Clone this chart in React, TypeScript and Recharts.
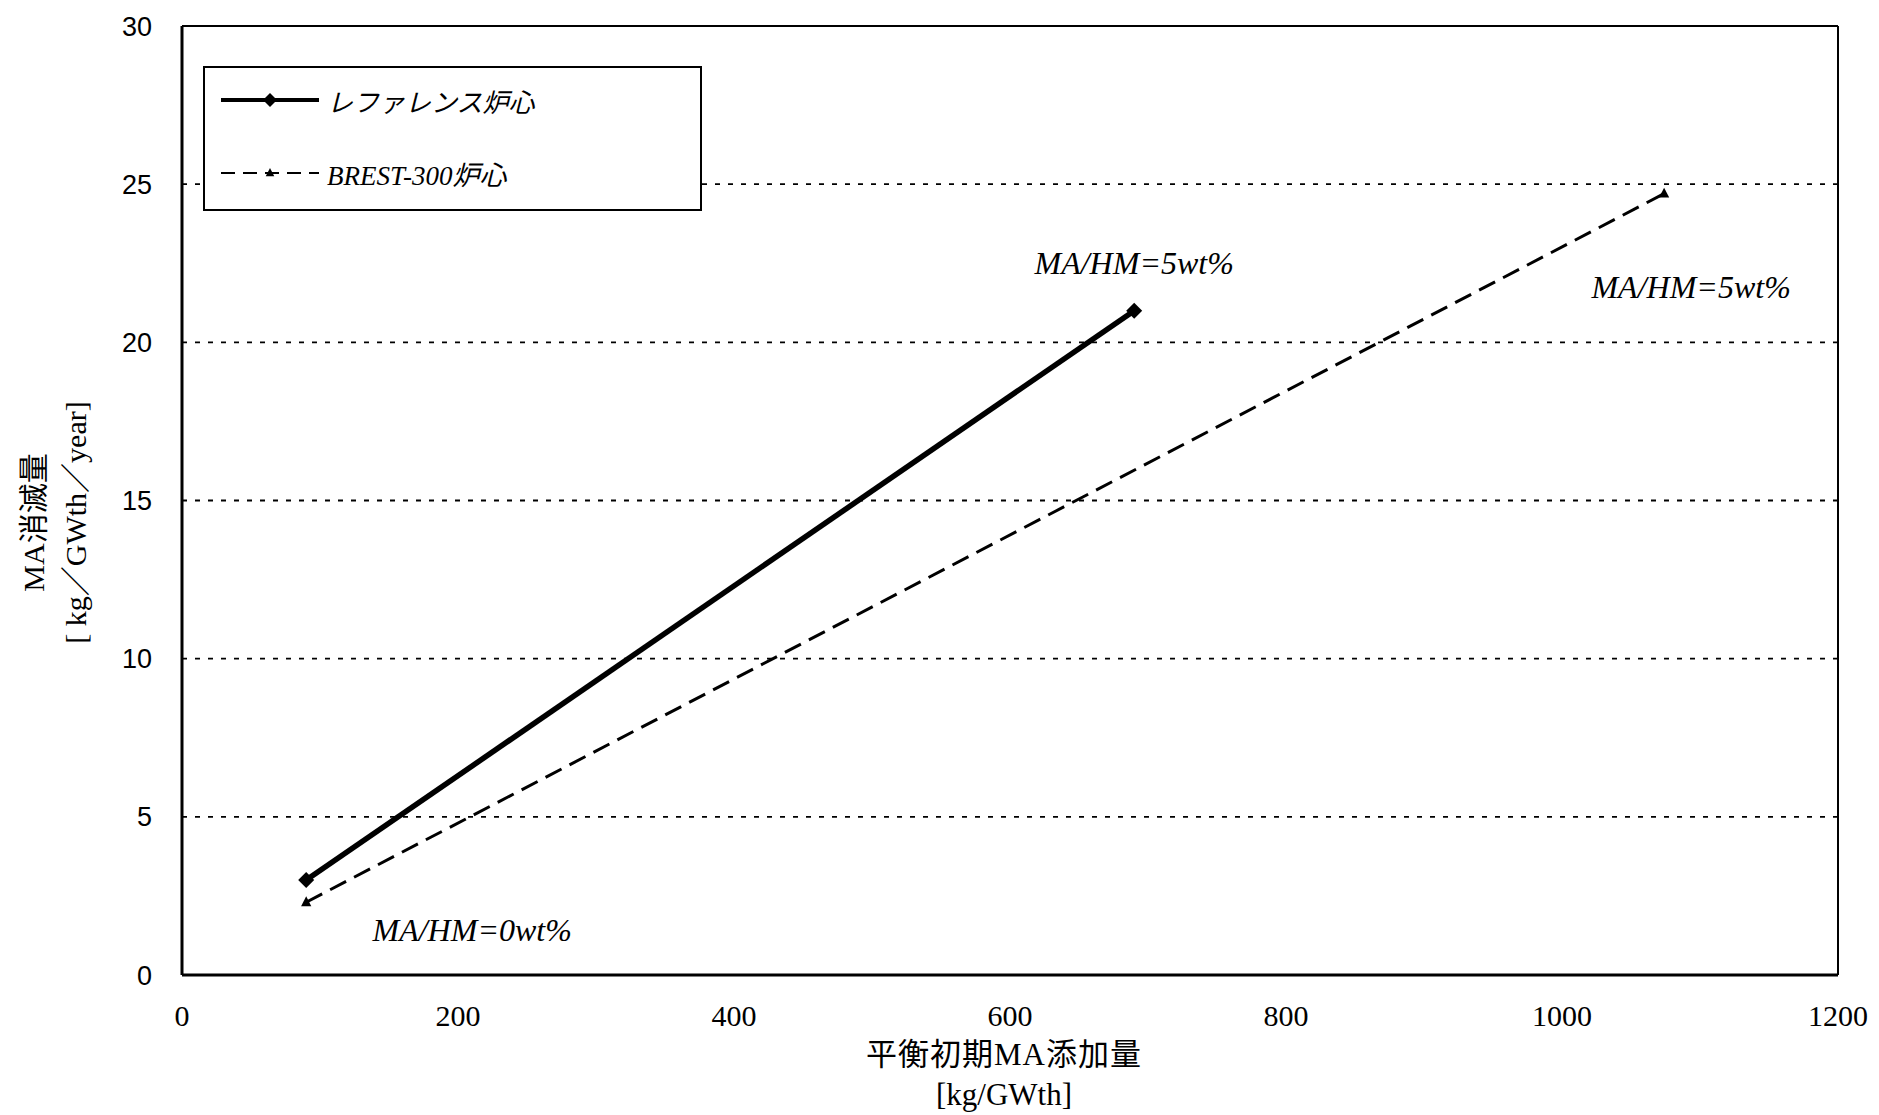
import { LineChart, Line, XAxis, YAxis, CartesianGrid, ReferenceLine, Legend, LabelList, Label } from "recharts";

// MA burn-up vs. initial MA loading, two core designs
const REF_X = [90, 690];
const REF_Y = [3.0, 21.0];
const REF_NOTES = ["", "MA/HM=5wt%"];

const BREST_X = [90, 1074];
const BREST_Y = [2.3, 24.7];
const BREST_NOTES = ["MA/HM=0wt%", "MA/HM=5wt%"];

const X_TICKS = [0, 200, 400, 600, 800, 1000, 1200];
const Y_TICKS = [0, 5, 10, 15, 20, 25, 30];

const REF_NAME = "レファレンス炉心";
const BREST_NAME = "BREST-300炉心";

const SERIF = '"Liberation Serif", "Noto Sans CJK JP", serif';
const SANS = '"Liberation Sans", Arial, sans-serif';

const refData = REF_X.map((x, i) => ({ x, y: REF_Y[i], note: REF_NOTES[i] }));
const brestData = BREST_X.map((x, i) => ({ x, y: BREST_Y[i], note: BREST_NOTES[i] }));

// where each note sits relative to its point
const REF_NOTE_OFFSET = [null, { dx: 0, dy: -48 }];
const BREST_NOTE_OFFSET = [{ dx: 166, dy: 28 }, { dx: 27, dy: 93 }];

function diamond(cx: number, cy: number, r: number) {
  return `${cx},${cy - r} ${cx + r},${cy} ${cx},${cy + r} ${cx - r},${cy}`;
}

function triangle(cx: number, cy: number, r: number) {
  return `${cx},${cy - r} ${cx + r * 0.85},${cy + r * 0.65} ${cx - r * 0.85},${cy + r * 0.65}`;
}

const RefDot = (p: any) =>
  p.cx == null ? null : <polygon key={`rd-${p.index}`} points={diamond(p.cx, p.cy, 8)} fill="#000" />;

const BrestDot = (p: any) =>
  p.cx == null ? null : <polygon key={`bd-${p.index}`} points={triangle(p.cx, p.cy, 6)} fill="#000" />;

const noteRenderer = (offsets: any[]) => (p: any) => {
  const off = offsets[p.index];
  if (!off || !p.value) return null;
  return (
    <text
      x={p.x + off.dx}
      y={p.y + off.dy}
      textAnchor="middle"
      dominantBaseline="central"
      style={{ fontFamily: SERIF, fontStyle: "italic", fontSize: 32 }}
      fill="#000"
    >
      {p.value}
    </text>
  );
};

const XTick = (p: any) => (
  <text
    x={p.x}
    y={p.y}
    dy="0.71em"
    textAnchor="middle"
    fill="#000"
    style={{ fontFamily: SERIF, fontSize: 30 }}
  >
    {p.payload.value}
  </text>
);

const YTick = (p: any) => (
  <text
    x={p.x}
    y={p.y}
    dy="0.355em"
    textAnchor="end"
    fill="#000"
    style={{ fontFamily: SANS, fontSize: 27 }}
  >
    {p.payload.value}
  </text>
);

const XTitle = (p: any) => {
  const vb = p.viewBox;
  const cx = vb.x + vb.width / 2 - 6;
  return (
    <g style={{ fontFamily: SERIF, fontSize: 31 }} fill="#000" textAnchor="middle">
      <text x={cx} y={vb.y + 79} dominantBaseline="central" letterSpacing={1}>平衡初期MA添加量</text>
      <text x={cx} y={vb.y + 119} dominantBaseline="central">[kg/GWth]</text>
    </g>
  );
};

const YTitle = (p: any) => {
  const vb = p.viewBox;
  const cy = vb.y + vb.height / 2 + 22;
  return (
    <g style={{ fontFamily: SERIF, fontSize: 30 }} fill="#000" textAnchor="middle">
      <text x={33} y={cy} dominantBaseline="central" transform={`rotate(-90, 33, ${cy})`}>MA消滅量</text>
      <text x={75} y={cy} dominantBaseline="central" transform={`rotate(-90, 75, ${cy})`}>[ kg／GWth／year]</text>
    </g>
  );
};

function LegendBox() {
  const row = (top: number): React.CSSProperties => ({
    position: "absolute",
    left: 14,
    top,
    height: 30,
    display: "flex",
    alignItems: "center",
  });
  return (
    <div
      style={{
        width: 499,
        height: 145,
        border: "2px solid #000",
        boxSizing: "border-box",
        background: "#fff",
        position: "relative",
        fontFamily: SERIF,
        fontStyle: "italic",
        fontSize: 26,
        color: "#000",
      }}
    >
      <div style={row(17)}>
        <svg width={102} height={30}>
          <line x1={2} y1={15} x2={100} y2={15} stroke="#000" strokeWidth={4} />
          <polygon points={diamond(51, 15, 7)} fill="#000" />
        </svg>
        <span style={{ marginLeft: 6 }}>{REF_NAME}</span>
      </div>
      <div style={row(90)}>
        <svg width={102} height={30}>
          <line x1={2} y1={15} x2={100} y2={15} stroke="#000" strokeWidth={2} strokeDasharray="14 8" />
          <polygon points={triangle(51, 15, 5)} fill="#000" />
        </svg>
        <span style={{ marginLeft: 6, fontSize: 27 }}>{BREST_NAME}</span>
      </div>
    </div>
  );
}

export default function App() {
  return (
    <div style={{ position: "absolute", left: 0, top: 0, width: 1879, height: 1115, background: "#fff" }}>
      <LineChart width={1879} height={1115} margin={{ top: 26, right: 41, left: 0, bottom: 0 }}>
        <CartesianGrid vertical={false} stroke="#000" strokeDasharray="5 8" strokeWidth={1.8} />
        <XAxis
          type="number"
          dataKey="x"
          domain={[0, 1200]}
          ticks={X_TICKS}
          height={140}
          tickLine={false}
          tickMargin={24}
          axisLine={{ stroke: "#000", strokeWidth: 3 }}
          tick={XTick}
          allowDataOverflow
        >
          <Label content={XTitle} />
        </XAxis>
        <YAxis
          type="number"
          domain={[0, 30]}
          ticks={Y_TICKS}
          width={182}
          tickLine={false}
          tickMargin={24}
          axisLine={{ stroke: "#000", strokeWidth: 3 }}
          tick={YTick}
          allowDataOverflow
        >
          <Label content={YTitle} />
        </YAxis>
        <ReferenceLine y={30} stroke="#000" strokeWidth={2} />
        <ReferenceLine x={1200} stroke="#000" strokeWidth={2} />
        <Legend
          layout="vertical"
          align="center"
          verticalAlign="middle"
          content={LegendBox}
          wrapperStyle={{ position: "absolute", left: 203, top: 66, width: 499, height: 145 }}
        />
        <Line
          name={BREST_NAME}
          data={brestData}
          dataKey="y"
          stroke="#000"
          strokeWidth={3}
          strokeDasharray="18 9"
          dot={BrestDot}
          activeDot={false}
          isAnimationActive={false}
        >
          <LabelList dataKey="note" content={noteRenderer(BREST_NOTE_OFFSET)} />
        </Line>
        <Line
          name={REF_NAME}
          data={refData}
          dataKey="y"
          stroke="#000"
          strokeWidth={5.5}
          dot={RefDot}
          activeDot={false}
          isAnimationActive={false}
        >
          <LabelList dataKey="note" content={noteRenderer(REF_NOTE_OFFSET)} />
        </Line>
      </LineChart>
    </div>
  );
}
